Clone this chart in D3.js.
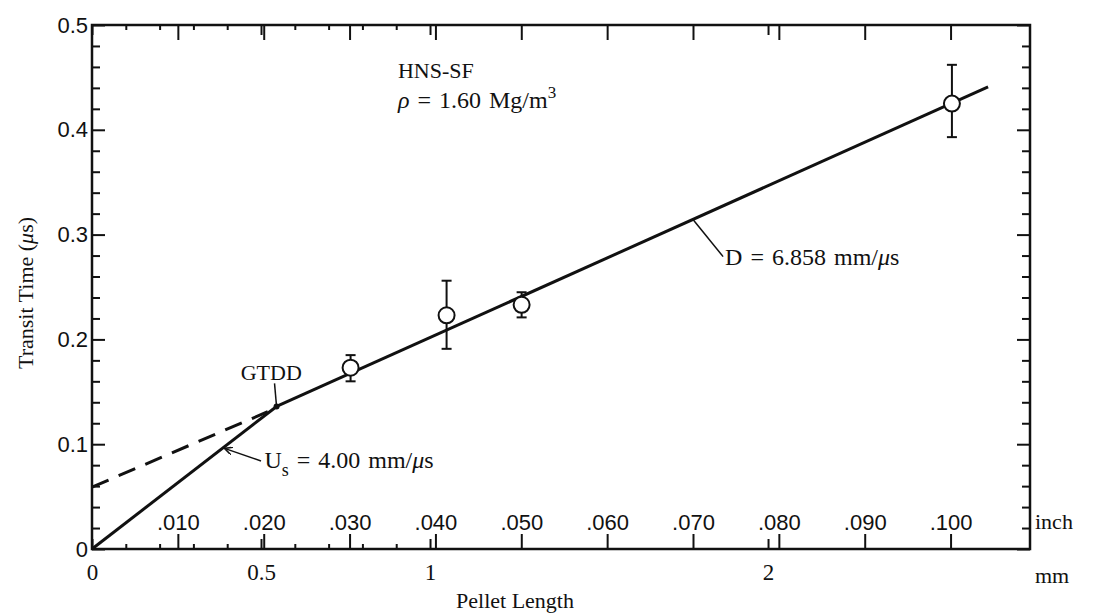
<!DOCTYPE html>
<html>
<head>
<meta charset="utf-8">
<title>HNS-SF transit time vs pellet length</title>
<style>
  body { margin: 0; background: #fff; }
  svg { font-family: "Liberation Serif", "Times New Roman", serif; }
  .tick text { font-family: "Liberation Sans", Arial, sans-serif; font-size: 22px; fill: #111; }
  .mm .tick text { font-family: "Liberation Serif", serif; font-size: 23px; }
  .domain { display: none; }
  .tick line { stroke: #111; stroke-width: 2; }
  .lbl { font-size: 22px; fill: #111; }
  .eq { font-size: 24px; fill: #111; word-spacing: 2px; }
  .fit { fill: none; stroke: #111; stroke-width: 3; }
  .lead { stroke: #111; stroke-width: 1.5; }
</style>
</head>
<body>
<script src="https://d3js.org/d3.v7.min.js"></script>
<script>
// data: pellet length (mm), transit time (us)
const lengthMm  = [0.765, 1.049, 1.271, 2.544];
const transitUs = [0.173, 0.223, 0.233, 0.425];
const errHigh   = [0.185, 0.256, 0.245, 0.462];
const errLow    = [0.160, 0.191, 0.221, 0.393];

// fitted lines
const usLine  = [[0, 0], [0.546, 0.136]];
const dLine   = [[0.546, 0.136], [2.651, 0.441]];
const dExtrap = [[0, 0.059], [0.52, 0.131]];

const yMajor = [0, 0.1, 0.2, 0.3, 0.4, 0.5];
const yMinor = [0.02, 0.04, 0.06, 0.08, 0.12, 0.14, 0.16, 0.18, 0.22, 0.24, 0.26, 0.28,
                0.32, 0.34, 0.36, 0.38, 0.42, 0.44, 0.46, 0.48];
const inchTicks  = [0.010, 0.020, 0.030, 0.040, 0.050, 0.060, 0.070, 0.080, 0.090, 0.100];
const inchLabels = [".010", ".020", ".030", ".040", ".050", ".060", ".070", ".080", ".090", ".100"];
const mmMajor  = [0, 0.5, 1, 2];
const mmLabels = ["0", "0.5", "1", "2"];
const mmMinor  = [0.1, 0.2, 0.3, 0.4, 0.6, 0.7, 0.8, 0.9];

const width = 1095, height = 614;
const mLeft = 92, mRight = 1030, mTop = 25, mBottom = 549;

const svg = d3.select("body").append("svg")
    .attr("width", width)
    .attr("height", height);

svg.append("defs").append("marker")
    .attr("id", "arrow")
    .attr("viewBox", "0 0 8 8")
    .attr("refX", 8).attr("refY", 4)
    .attr("markerWidth", 8).attr("markerHeight", 8)
    .attr("markerUnits", "userSpaceOnUse")
    .attr("orient", "auto")
  .append("path")
    .attr("d", "M0,0 L8,4 L0,8")
    .attr("fill", "none").attr("stroke", "#111").attr("stroke-width", 1.5);

const x = d3.scaleLinear().domain([0, 2.775]).range([mLeft, mRight]);
const y = d3.scaleLinear().domain([0, 0.5]).range([mBottom, mTop]);
const inchToMm = d => d * 25.4;

// y axes (ticks point inward)
svg.append("g")
    .attr("transform", `translate(${mLeft},0)`)
    .call(d3.axisLeft(y).tickValues(yMajor).tickSize(-13).tickPadding(4)
        .tickFormat(d => d === 0 ? "0" : d3.format(".1f")(d)));
svg.append("g")
    .attr("transform", `translate(${mLeft},0)`)
    .call(d3.axisLeft(y).tickValues(yMinor).tickSize(-8).tickFormat(""));
svg.append("g")
    .attr("transform", `translate(${mRight},0)`)
    .call(d3.axisRight(y).tickValues(yMajor).tickSize(-13).tickFormat(""));
svg.append("g")
    .attr("transform", `translate(${mRight},0)`)
    .call(d3.axisRight(y).tickValues(yMinor).tickSize(-8).tickFormat(""));

// bottom: inch ticks with labels inside, mm ticks with labels below
svg.append("g")
    .attr("transform", `translate(0,${mBottom})`)
    .call(d3.axisTop(x).tickValues(inchTicks.map(inchToMm)).tickSize(15).tickPadding(4)
        .tickFormat((d, i) => inchLabels[i]));
svg.append("g")
    .attr("class", "mm")
    .attr("transform", `translate(0,${mBottom})`)
    .call(d3.axisBottom(x).tickValues(mmMajor).tickSize(-10).tickPadding(15)
        .tickFormat((d, i) => mmLabels[i]));
svg.append("g")
    .attr("transform", `translate(0,${mBottom})`)
    .call(d3.axisBottom(x).tickValues(mmMinor).tickSize(-5).tickFormat(""));

// top: mirrored ticks, no labels
svg.append("g")
    .attr("transform", `translate(0,${mTop})`)
    .call(d3.axisBottom(x).tickValues(inchTicks.map(inchToMm)).tickSize(15).tickFormat(""));
svg.append("g")
    .attr("transform", `translate(0,${mTop})`)
    .call(d3.axisBottom(x).tickValues(mmMajor).tickSize(10).tickFormat(""));
svg.append("g")
    .attr("transform", `translate(0,${mTop})`)
    .call(d3.axisBottom(x).tickValues(mmMinor).tickSize(5).tickFormat(""));

// frame
svg.append("rect")
    .attr("x", mLeft).attr("y", mTop)
    .attr("width", mRight - mLeft).attr("height", mBottom - mTop)
    .attr("fill", "none").attr("stroke", "#111").attr("stroke-width", 2.5);

// fitted lines
const line = d3.line().x(d => x(d[0])).y(d => y(d[1]));
svg.append("path").attr("class", "fit").attr("d", line(usLine));
svg.append("path").attr("class", "fit").attr("d", line(dLine));
svg.append("path").attr("class", "fit").attr("d", line(dExtrap))
    .attr("stroke-dasharray", "18,11");
svg.append("circle")
    .attr("cx", x(usLine[1][0])).attr("cy", y(usLine[1][1]))
    .attr("r", 3).attr("fill", "#111");

// data points with error bars
const pts = lengthMm.map((v, i) => ({ mm: v, t: transitUs[i], hi: errHigh[i], lo: errLow[i] }));
const pt = svg.selectAll(".pt").data(pts).join("g").attr("class", "pt");
pt.append("line")
    .attr("x1", d => x(d.mm)).attr("x2", d => x(d.mm))
    .attr("y1", d => y(d.hi)).attr("y2", d => y(d.lo))
    .attr("stroke", "#111").attr("stroke-width", 2);
["hi", "lo"].forEach(k => {
  pt.append("line")
      .attr("x1", d => x(d.mm) - 5).attr("x2", d => x(d.mm) + 5)
      .attr("y1", d => y(d[k])).attr("y2", d => y(d[k]))
      .attr("stroke", "#111").attr("stroke-width", 2);
});
pt.append("circle")
    .attr("cx", d => x(d.mm)).attr("cy", d => y(d.t))
    .attr("r", 8).attr("fill", "#fff")
    .attr("stroke", "#111").attr("stroke-width", 2);

// annotations
svg.append("text").attr("class", "lbl")
    .attr("x", x(0.905)).attr("y", y(0.449)).text("HNS-SF");
const rho = svg.append("text").attr("class", "eq")
    .attr("x", x(0.905)).attr("y", y(0.421));
rho.append("tspan").attr("font-style", "italic").text("ρ");
rho.append("tspan").text(" = 1.60 Mg/m");
rho.append("tspan").attr("dy", -10).attr("font-size", 17).text("3");

svg.append("text").attr("class", "lbl")
    .attr("x", x(0.44)).attr("y", y(0.161)).text("GTDD");
svg.append("line").attr("class", "lead")
    .attr("x1", x(0.54)).attr("y1", y(0.158))
    .attr("x2", x(0.546)).attr("y2", y(0.136));

const us = svg.append("text").attr("class", "eq")
    .attr("x", x(0.51)).attr("y", y(0.077));
us.append("tspan").text("U");
us.append("tspan").attr("dy", 8).attr("font-size", 18).text("s");
us.append("tspan").attr("dy", -8).text(" = 4.00 mm/");
us.append("tspan").attr("font-style", "italic").text("μ");
us.append("tspan").text("s");
svg.append("line").attr("class", "lead")
    .attr("x1", x(0.50)).attr("y1", y(0.084))
    .attr("x2", x(0.392)).attr("y2", y(0.096))
    .attr("marker-end", "url(#arrow)");

const dl = svg.append("text").attr("class", "eq")
    .attr("x", x(1.873)).attr("y", y(0.271));
dl.append("tspan").text("D = 6.858 mm/");
dl.append("tspan").attr("font-style", "italic").text("μ");
dl.append("tspan").text("s");
svg.append("line").attr("class", "lead")
    .attr("x1", x(1.778)).attr("y1", y(0.3145))
    .attr("x2", x(1.867)).attr("y2", y(0.279));

// axis titles and units
svg.append("text").attr("class", "lbl")
    .attr("x", mRight + 5).attr("y", mBottom - 20).text("inch");
svg.append("text").attr("class", "lbl")
    .attr("x", mRight + 5).attr("y", mBottom + 34).text("mm");
svg.append("text").attr("class", "lbl")
    .attr("text-anchor", "middle")
    .attr("x", (mLeft + mRight) / 2 - 46).attr("y", height - 6).text("Pellet Length");
const yt = svg.append("text").attr("class", "lbl")
    .attr("text-anchor", "middle")
    .attr("transform", `translate(33,${(mTop + mBottom) / 2 + 6}) rotate(-90)`);
yt.append("tspan").text("Transit Time (");
yt.append("tspan").attr("font-style", "italic").text("μ");
yt.append("tspan").text("s)");
</script>
</body>
</html>
